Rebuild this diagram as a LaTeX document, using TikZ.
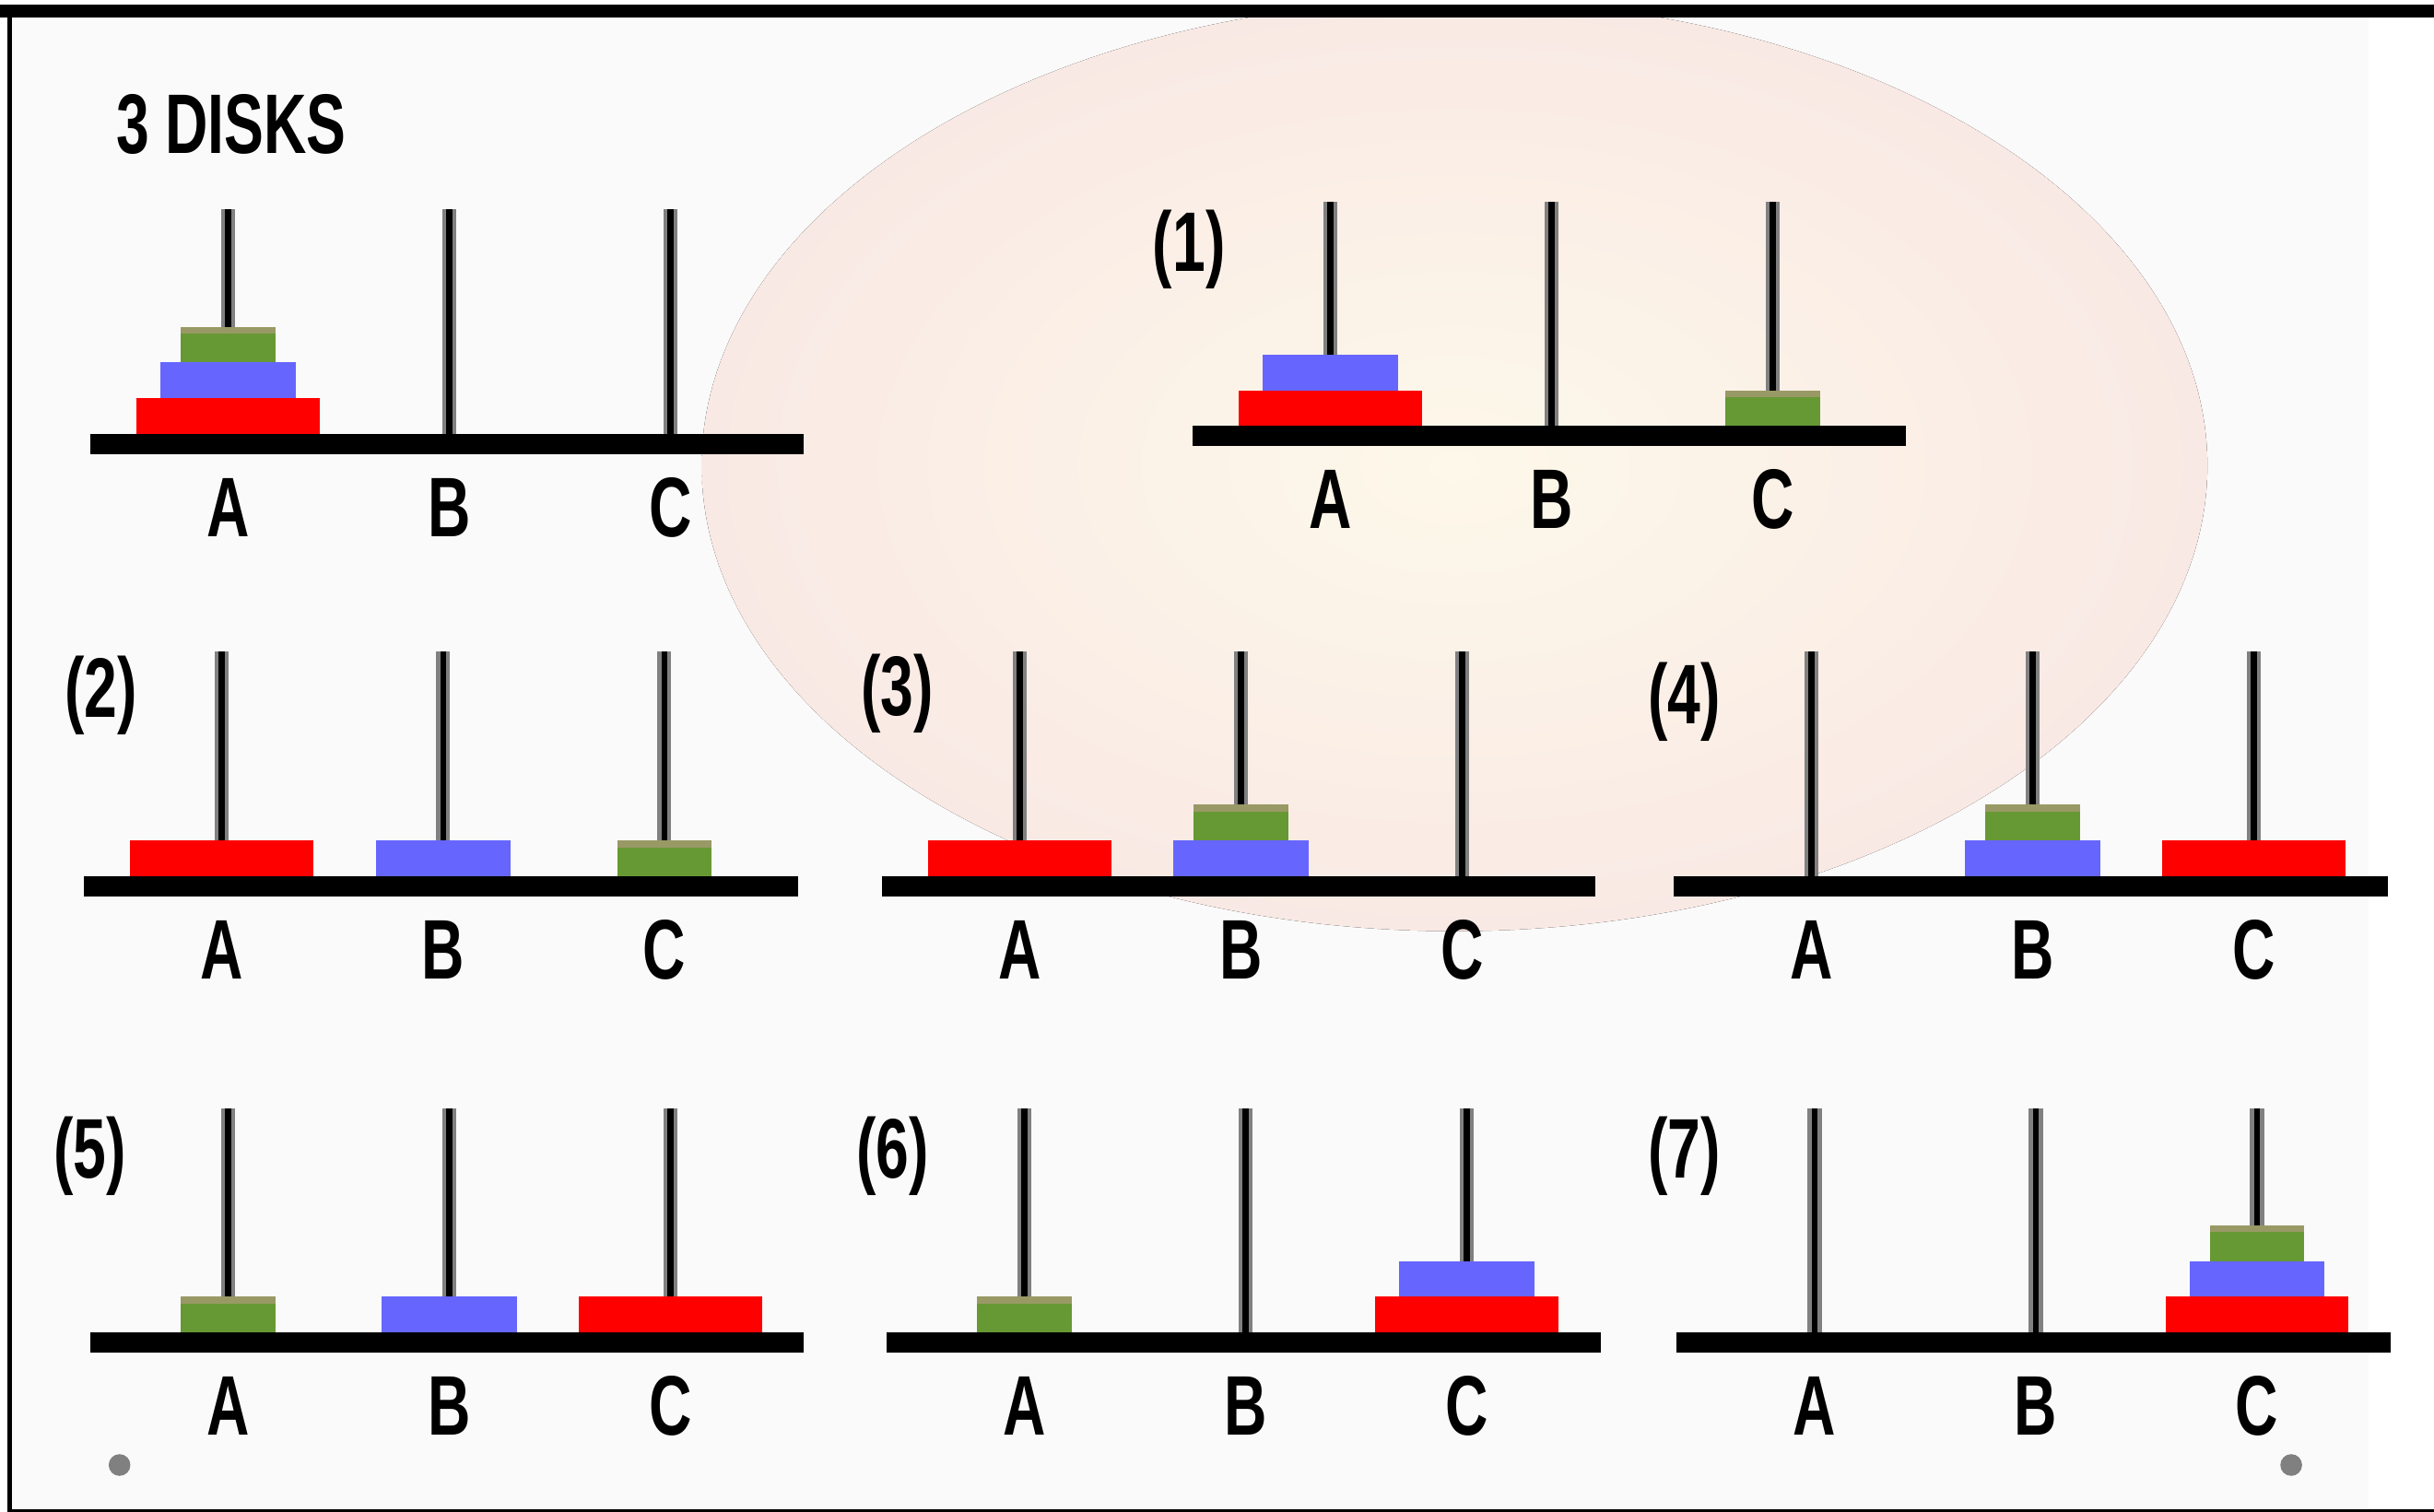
\documentclass[tikz,border=0pt]{standalone}
\usepackage{fontspec}
\newfontfamily\pixfont{Liberation Sans}[FakeStretch=0.7]

\definecolor{diskred}{HTML}{FF0000}
\definecolor{diskblue}{HTML}{6666FF}
\definecolor{diskgreen}{HTML}{669933}
\definecolor{diskrim}{HTML}{999966}
\definecolor{pegrim}{HTML}{808080}
\definecolor{paper}{HTML}{FAFAFA}
\definecolor{sunin}{HTML}{FDF8EA}
\definecolor{sunout}{HTML}{F9E9E4}

\tikzset{
  pegname/.style={font=\pixfont\bfseries\fontsize{31}{33}\selectfont, inner sep=0pt},
  steplabel/.style={pegname},
}

% one stand: peg A at x=#2, board centre at y=#3
\newcommand{\stand}[3]{%
  \foreach \k/\t in {0/A,1/B,2/C}{
    \fill[pegrim] (#2+\k*142.5-4.5,#3) rectangle (#2+\k*142.5+4.5,#3-151);
    \fill[black] (#2+\k*142.5-2,#3) rectangle (#2+\k*142.5+2,#3-151);
    \node[pegname] (#1\t) at (#2+\k*142.5,#3+41) {\t};
  }
  \fill[black] (#2-89,#3-6.5) rectangle (#2+371,#3+6.5);
}

% a disk: stand at (#1,#2), peg #3, level #4, size #5 (1 small .. 3 big)
\newcommand{\puck}[5]{%
  \pgfmathsetmacro\diskx{#1+#3*142.5}
  \pgfmathsetmacro\disky{#2-6.5-#4*23}
  \ifcase#5\or
    \fill[diskgreen] (\diskx-30.5,\disky) rectangle (\diskx+30.5,\disky-23);
    \fill[diskrim] (\diskx-30.5,\disky-18.5) rectangle (\diskx+30.5,\disky-23);
  \or
    \fill[diskblue] (\diskx-43.5,\disky) rectangle (\diskx+43.5,\disky-23);
  \or
    \fill[diskred] (\diskx-59,\disky) rectangle (\diskx+59,\disky-23);
  \fi
}

\begin{document}
\begin{tikzpicture}[x=0.2mm, y=-0.2mm]
  % page and frame
  \fill[white] (0,0) rectangle (1568,974);
  \fill[paper] (4.5,10) rectangle (1526,972);
  \begin{scope}
    \clip (4.5,10) rectangle (1526,972);
    \fill[inner color=sunin, outer color=sunout]
      (937,300) ellipse[x radius=9.7cm, y radius=6cm];
  \end{scope}
  \fill[black] (0,3) rectangle (1568,11);
  \fill[black] (4.5,3) rectangle (7.5,974);
  \fill[black] (4.5,972.5) rectangle (1568,974);

  \node[pegname] (title) at (149,80) {3 DISKS};

  % start
  \stand{s}{147}{286}
  \puck{147}{286}{0}{0}{3}
  \puck{147}{286}{0}{1}{2}
  \puck{147}{286}{0}{2}{1}

  % (1)
  \node[steplabel] (m1) at (766,161) {(1)};
  \stand{a}{857}{281}
  \puck{857}{281}{0}{0}{3}
  \puck{857}{281}{0}{1}{2}
  \puck{857}{281}{2}{0}{1}

  % (2)
  \node[steplabel] (m2) at (65,448) {(2)};
  \stand{b}{143}{571}
  \puck{143}{571}{0}{0}{3}
  \puck{143}{571}{1}{0}{2}
  \puck{143}{571}{2}{0}{1}

  % (3)
  \node[steplabel] (m3) at (578,447) {(3)};
  \stand{c}{657}{571}
  \puck{657}{571}{0}{0}{3}
  \puck{657}{571}{1}{0}{2}
  \puck{657}{571}{1}{1}{1}

  % (4)
  \node[steplabel] (m4) at (1085,452) {(4)};
  \stand{d}{1167}{571}
  \puck{1167}{571}{1}{0}{2}
  \puck{1167}{571}{1}{1}{1}
  \puck{1167}{571}{2}{0}{3}

  % (5)
  \node[steplabel] (m5) at (58,745) {(5)};
  \stand{e}{147}{865}
  \puck{147}{865}{0}{0}{1}
  \puck{147}{865}{1}{0}{2}
  \puck{147}{865}{2}{0}{3}

  % (6)
  \node[steplabel] (m6) at (575,745) {(6)};
  \stand{f}{660}{865}
  \puck{660}{865}{0}{0}{1}
  \puck{660}{865}{2}{0}{3}
  \puck{660}{865}{2}{1}{2}

  % (7)
  \node[steplabel] (m7) at (1085,745) {(7)};
  \stand{g}{1169}{865}
  \puck{1169}{865}{2}{0}{3}
  \puck{1169}{865}{2}{1}{2}
  \puck{1169}{865}{2}{2}{1}

  % corner dots
  \fill[pegrim] (77,944) circle[radius=1.4mm];
  \fill[pegrim] (1476,944) circle[radius=1.4mm];
\end{tikzpicture}
\end{document}
